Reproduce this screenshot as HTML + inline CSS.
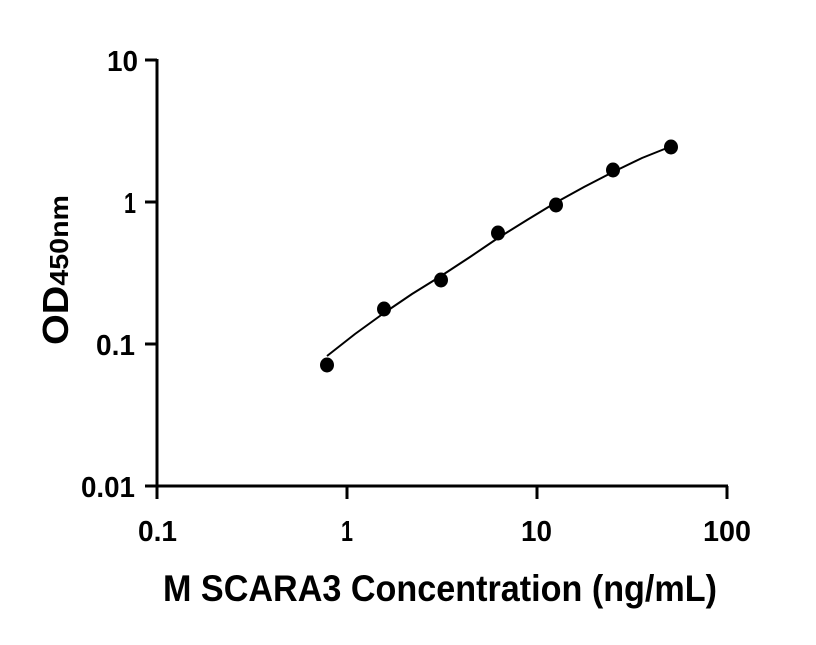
<!DOCTYPE html>
<html><head><style>body{margin:0;background:#fff}svg text{font-family:"Liberation Sans",sans-serif;font-weight:bold;fill:#000}</style></head>
<body><svg width="816" height="640" viewBox="0 0 816 640">
<g stroke="#000" stroke-width="3" fill="none">
<line x1="157" y1="59" x2="157" y2="487"/>
<line x1="156" y1="486" x2="728" y2="486"/>
<line x1="145" y1="60" x2="157" y2="60"/>
<line x1="145" y1="202" x2="157" y2="202"/>
<line x1="145" y1="344" x2="157" y2="344"/>
<line x1="145" y1="486" x2="157" y2="486"/>
<line x1="157" y1="486" x2="157" y2="499"/>
<line x1="347" y1="486" x2="347" y2="499"/>
<line x1="537" y1="486" x2="537" y2="499"/>
<line x1="727" y1="486" x2="727" y2="499"/>
</g>
<polyline fill="none" stroke="#000" stroke-width="2" points="327,356 355,334 384,313 412,294 441,276 470,257 498,238 527,220 555,203 584,187 613,172 642,158 672,146"/>
<g fill="#000">
<ellipse cx="327" cy="365" rx="7" ry="7.5"/>
<ellipse cx="384" cy="309" rx="7" ry="7.5"/>
<ellipse cx="441" cy="280" rx="7" ry="7.5"/>
<ellipse cx="498" cy="233" rx="7" ry="7.5"/>
<ellipse cx="556" cy="205" rx="7" ry="7.5"/>
<ellipse cx="613" cy="170" rx="7" ry="7.5"/>
<ellipse cx="671" cy="147" rx="7" ry="7.5"/>
</g>
<g font-size="29" lengthAdjust="spacingAndGlyphs">
<text x="107" y="71" textLength="31" lengthAdjust="spacingAndGlyphs">10</text>
<text x="124" y="213" textLength="12" lengthAdjust="spacingAndGlyphs">1</text>
<text x="96" y="355" textLength="39" lengthAdjust="spacingAndGlyphs">0.1</text>
<text x="81" y="497" textLength="54" lengthAdjust="spacingAndGlyphs">0.01</text>
</g>
<g font-size="29">
<text x="138" y="541" textLength="39" lengthAdjust="spacingAndGlyphs">0.1</text>
<text x="341" y="541" textLength="12" lengthAdjust="spacingAndGlyphs">1</text>
<text x="521" y="541" textLength="31" lengthAdjust="spacingAndGlyphs">10</text>
<text x="703" y="541" textLength="48" lengthAdjust="spacingAndGlyphs">100</text>
</g>
<text x="163" y="601" font-size="37" textLength="554" lengthAdjust="spacingAndGlyphs">M SCARA3 Concentration (ng/mL)</text>
<text transform="translate(68,345) rotate(-90)" font-size="36" textLength="150" lengthAdjust="spacingAndGlyphs">OD<tspan font-size="26">450nm</tspan></text>
</svg></body></html>
